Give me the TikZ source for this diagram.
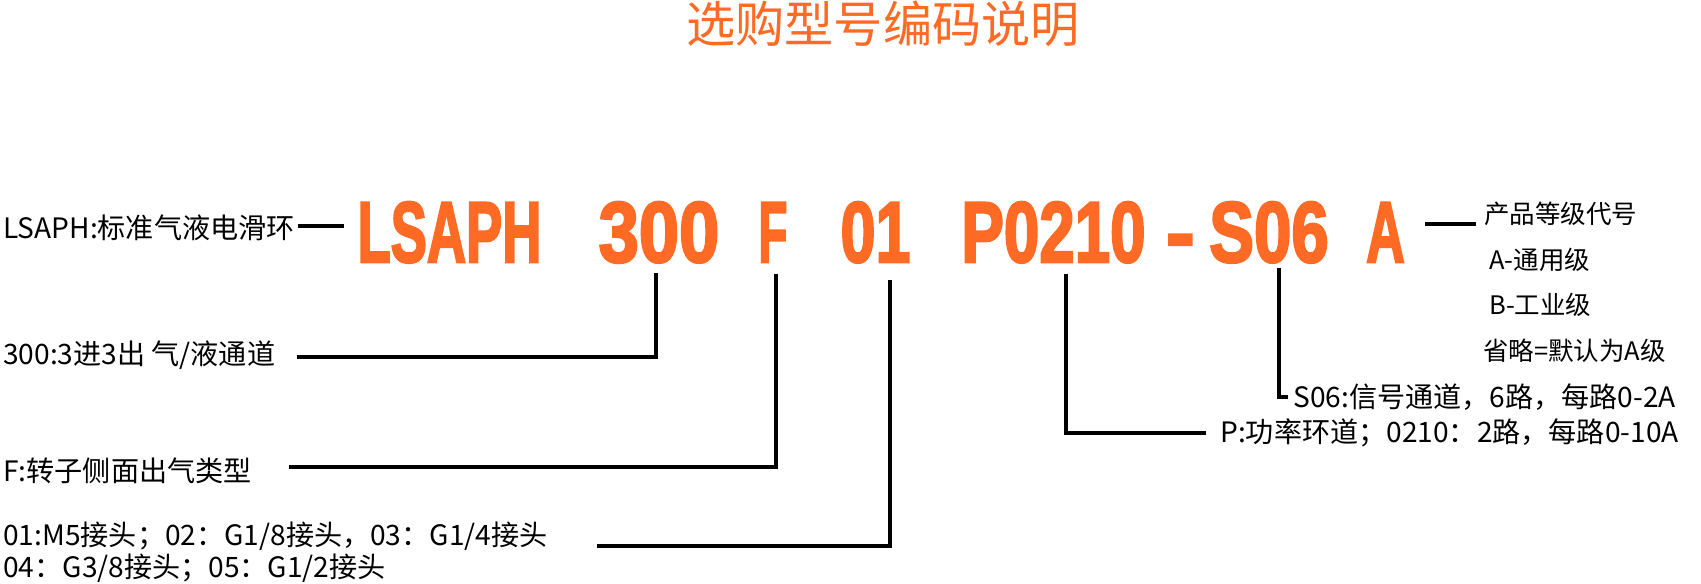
\documentclass[tikz,border=0pt]{standalone}
\usepackage{graphicx}
\usepackage{fontspec}
\newfontfamily\cjk{Noto Sans CJK SC}
\newfontfamily\codefont[FakeBold=3]{Liberation Sans}
\definecolor{codeorange}{RGB}{255,106,36}
\newcommand{\squeeze}[2]{\scalebox{#1}[1]{#2}}
\tikzset{
    every node/.style={inner sep=0pt},
    code/.style={text=codeorange, anchor=base, font=\codefont\bfseries\fontsize{49pt}{50pt}\selectfont},
    info/.style={anchor=west, font=\cjk\fontsize{16pt}{18pt}\selectfont},
    grade/.style={anchor=west, font=\cjk\fontsize{14.5pt}{16pt}\selectfont},
    lead/.style={line width=2pt},
    bar/.style={line width=2.8pt}
}

\begin{document}
\begin{tikzpicture}[x=0.02cm, y=-0.02cm]
    \useasboundingbox (0,0) rectangle (1701,584);

    \node (title) [font=\cjk\fontsize{28pt}{30pt}\selectfont, text=codeorange] at (883,24) {选购型号编码说明};

    % the code itself
    \node (clsaph) [code] at (449.5,262) {\squeeze{0.63}{LSAPH}};
    \node (c300) [code] at (659,262) {\squeeze{0.84}{300}};
    \node (cf) [code] at (773,262) {\squeeze{0.55}{F}};
    \node (c01) [code] at (875.5,262) {\squeeze{0.73}{01}};
    \node (cp) [code] at (1053.5,262) {\squeeze{0.74}{P0210}};
    \node (cdash) [code] at (1180.5,262) {\squeeze{1.0}{-}};
    \node (cs) [code] at (1269,262) {\squeeze{0.78}{S06}};
    \node (ca) [code] at (1385.5,262) {\squeeze{0.62}{A}};

    % explanations
    \node (llsaph) [info] at (3,228) {LSAPH:标准气液电滑环};
    \node (l300) [info] at (3,355) {300:3进3出 气/液通道};
    \node (lf) [info] at (3,471) {F:转子侧面出气类型};
    \node (l01) [info, align=left] at (3,552) {01:M5接头；02：G1/8接头，03：G1/4接头\\04：G3/8接头；05：G1/2接头};
    \node (ls) [info] at (1293,397) {S06:信号通道，6路，每路0-2A};
    \node (lp) [info] at (1220,433) {P:功率环道；0210：2路，每路0-10A};

    \node (gtitle) [grade] at (1484,214) {产品等级代号};
    \node (ga) [grade] at (1489,260) {A-通用级};
    \node (gb) [grade] at (1489,305) {B-工业级};
    \node (gdef) [grade] at (1483,351) {省略=默认为A级};

    \coordinate (t300) at (656,273);
    \coordinate (tf) at (776,274);
    \coordinate (t01) at (890,280);
    \coordinate (tp) at (1066,274);
    \coordinate (ts) at (1279,268);
    \coordinate (dl) at (344,226);
    \coordinate (da) at (1425,224);

    \draw[bar, shorten <=1.5pt] (dl -| llsaph.east) -- (dl);
    \draw[bar, shorten >=4.5pt] (da) -- (da -| gtitle.west);
    \draw[lead, shorten >=12pt] (t300) |- ([yshift=-1.1pt]l300.east);
    \draw[lead, shorten >=21pt] (tf) |- ([yshift=2.3pt]lf.east);
    \draw[lead, shorten >=28pt] (t01) |- ([yshift=3.4pt]l01.east);
    \draw[lead, shorten >=8pt] (tp) |- (lp.west);
    \draw[lead, shorten >=2.8pt] (ts) |- (ls.west);
\end{tikzpicture}
\end{document}
